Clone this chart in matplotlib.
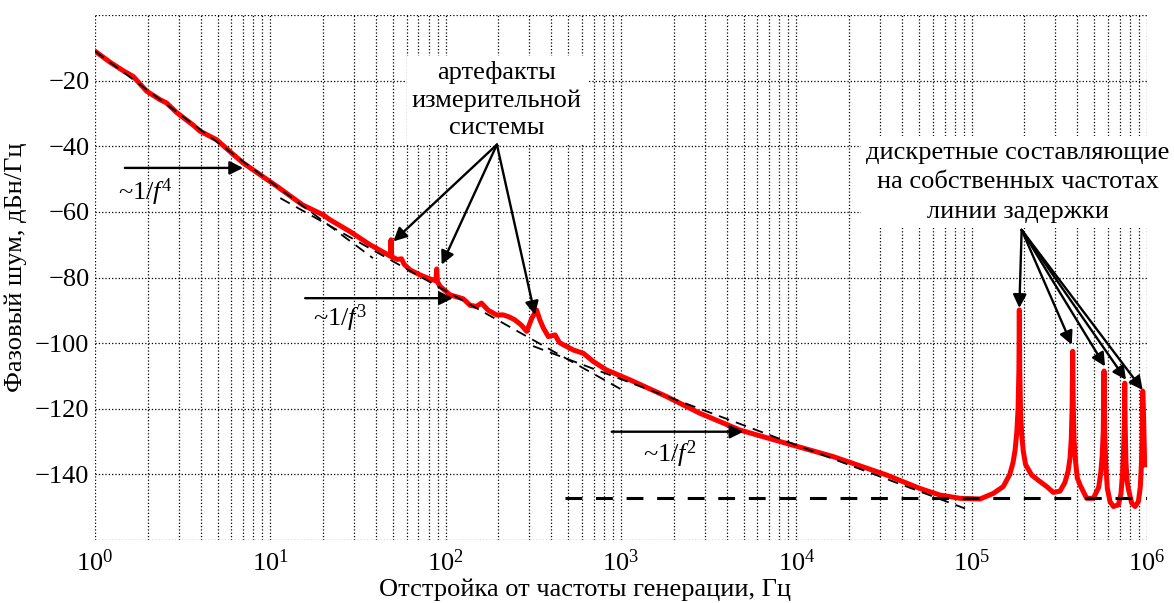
import numpy as np
import matplotlib
matplotlib.use("Agg")
import matplotlib.pyplot as plt

plt.rcParams['font.family'] = ['Liberation Serif', 'DejaVu Serif']
plt.rcParams['mathtext.fontset'] = 'custom'
plt.rcParams['mathtext.rm'] = 'Liberation Serif'
plt.rcParams['mathtext.it'] = 'Liberation Serif:italic'

f_meas = [1.0, 1.22, 1.45, 1.65, 1.97, 2.35, 2.56, 2.92, 3.64, 3.97, 4.94, 6.0, 7.0, 8.5,
          10.9, 15.3, 20, 21.9, 28.5, 37, 46, 48.3, 48.8, 49.3, 53, 56, 58, 62.7, 71.4, 80,
          88, 88.9, 89.8, 92.9, 106, 126, 138, 150, 160, 175, 195, 213, 230, 248, 270, 290,
          310, 330, 345, 361, 385, 421, 445, 469, 535, 610, 695, 828, 1125, 1823, 2825,
          4774, 8078, 16250, 32740, 50700, 65900, 85800, 111700, 132900, 151500, 165000,
          172000, 177000, 181000, 184000, 186000, 187000, 188000, 190000, 193000, 197000,
          203000, 219800, 245300, 267800, 292300, 319300, 340000, 355000, 364000, 370000,
          374000, 376900, 380000, 384000, 392000, 400000, 414700, 452800, 494400, 530000,
          545000, 555000, 563000, 568700, 574000, 582000, 594000, 615500, 643000, 687000,
          710000, 725000, 735000, 742000, 746500, 751000, 758000, 770000, 782000, 818000,
          855000, 893000, 915000, 928000, 938000, 945000, 952000, 961000, 970000]
L_meas = [-11.0, -14.4, -17.0, -18.7, -23.2, -25.8, -26.8, -29.7, -33.6, -35.4, -38.0, -42.0,
          -45.1, -48.2, -52.2, -57.9, -60.9, -62.4, -66.0, -70.0, -72.8, -73.5, -68.5, -73.7,
          -74.5, -74.3, -76.0, -77.7, -79.2, -80.3, -81.0, -77.4, -81.3, -82.7, -85.3, -86.5,
          -88.5, -88.8, -87.8, -90.0, -91.4, -91.4, -92.0, -92.9, -94.5, -96.4, -92.4, -89.9,
          -93.0, -95.4, -98.0, -97.5, -99.8, -100.5, -102.1, -103.1, -105.6, -108.2, -111.2,
          -116.3, -121.4, -126.5, -130.0, -134.6, -140.2, -144.3, -146.3, -147.3, -147.5,
          -145.8, -143.7, -140.0, -136.5, -132.5, -127.0, -120.0, -108.0, -89.9, -108.0,
          -121.0, -128.0, -133.0, -137.0, -140.2, -142.2, -143.7, -145.5, -145.1, -142.5,
          -139.0, -135.0, -129.0, -120.0, -102.5, -120.0, -130.0, -136.5, -141.0, -143.2,
          -147.3, -147.3, -144.0, -139.5, -134.5, -127.0, -108.5, -127.0, -137.0, -144.3,
          -148.3, -149.8, -149.3, -146.0, -140.0, -133.0, -125.0, -112.2, -125.0, -136.0,
          -142.0, -144.3, -148.8, -149.8, -148.3, -144.0, -138.0, -130.0, -114.6, -118.8,
          -128.0, -137.1]

# asymptote end points
f_fit4 = [1.0, 38.5]
L_fit4 = [-11.0, -74.1]
f_fit3 = [11.4, 1026]
L_fit3 = [-55.8, -114.4]
f_fit2 = [315, 91600]
L_fit2 = [-100.9, -150.4]
f_floor = [480, 1e6]
L_floor = [-147.3, -147.3]

fig = plt.figure(figsize=(11.74, 6.03), dpi=100)
ax = fig.add_axes([0.0809, 0.1045, 0.8961, 0.8706])

ax.semilogx(f_meas, L_meas, color='#ff0000', lw=3.6, solid_joinstyle='round', zorder=3)
for fx, Ly in [(f_fit4, L_fit4), (f_fit3, L_fit3), (f_fit2, L_fit2)]:
    ax.plot(fx, Ly, color='k', lw=1.3, dashes=(6, 4), zorder=4)
ax.plot(f_floor, L_floor, color='k', lw=2.2, dashes=(5.5, 4.5), zorder=4)

fs = 19
ax.set_xlim(1, 1e6)
ax.set_ylim(-160, 0)
ax.set_yticks(np.arange(-160, 1, 20))
ax.set_yticklabels([''] + [str(v).replace('-', '\u2212') for v in range(-140, -19, 20)] + [''])
ax.set_xticks([1, 10, 100, 1e3, 1e4, 1e5, 1e6])
ax.tick_params(which='both', length=0, labelsize=fs)
ax.tick_params(axis='x', pad=7)
ax.tick_params(axis='y', pad=4)
for s in ax.spines.values():
    s.set_visible(False)
ax.grid(True, which='major', color='k', ls=':', lw=0.9)
ax.grid(True, which='minor', axis='x', color='k', ls=':', lw=0.9)

ax.set_xlabel('Отстройка от частоты генерации, Гц', fontsize=fs, labelpad=2, x=0.466)
ax.set_ylabel('Фазовый шум, дБн/Гц', fontsize=fs, labelpad=6, y=0.52)

arr = dict(arrowstyle='-|>', color='k', lw=1.7, mutation_scale=20, shrinkA=0, shrinkB=0)

# slope labels
ax.annotate('', xy=(7.0, -46.6), xytext=(1.48, -46.6), arrowprops=arr)
ax.text(1.93, -54.0, r'~1/$f^4$', fontsize=fs, ha='center', va='center')
ax.annotate('', xy=(110, -86.3), xytext=(15.8, -86.3), arrowprops=arr)
ax.text(25, -92.5, r'~1/$f^3$', fontsize=fs, ha='center', va='center')
ax.annotate('', xy=(4990, -127.0), xytext=(885, -127.0), arrowprops=arr)
ax.text(1905, -134.0, r'~1/$f^2$', fontsize=fs, ha='center', va='center')

# artefacts
ax.text(196, -25.9, 'артефакты\nизмерительной\nсистемы', fontsize=fs, ha='center', va='center',
        linespacing=1.3, zorder=5,
        bbox=dict(boxstyle='square,pad=0.2', fc='white', ec='none'))
for tx, ty in [(50.3, -69.0), (94.9, -76.1), (323, -91.4)]:
    ax.annotate('', xy=(tx, ty), xytext=(196, -39.5), arrowprops=arr, zorder=6)

# delay line modes
ax.text(183700, -51.0, 'дискретные составляющие\nна собственных частотах\nлинии задержки',
        fontsize=fs, ha='center', va='center', linespacing=1.45, zorder=5,
        bbox=dict(boxstyle='square,pad=0.2', fc='white', ec='none'))
for tx, ty in [(187000, -89.3), (372200, -100.5), (576500, -107.1), (759000, -111.2), (945000, -114.3)]:
    ax.annotate('', xy=(tx, ty), xytext=(192800, -65.5), arrowprops=arr, zorder=6)

fig.savefig('out.png', dpi=100)
